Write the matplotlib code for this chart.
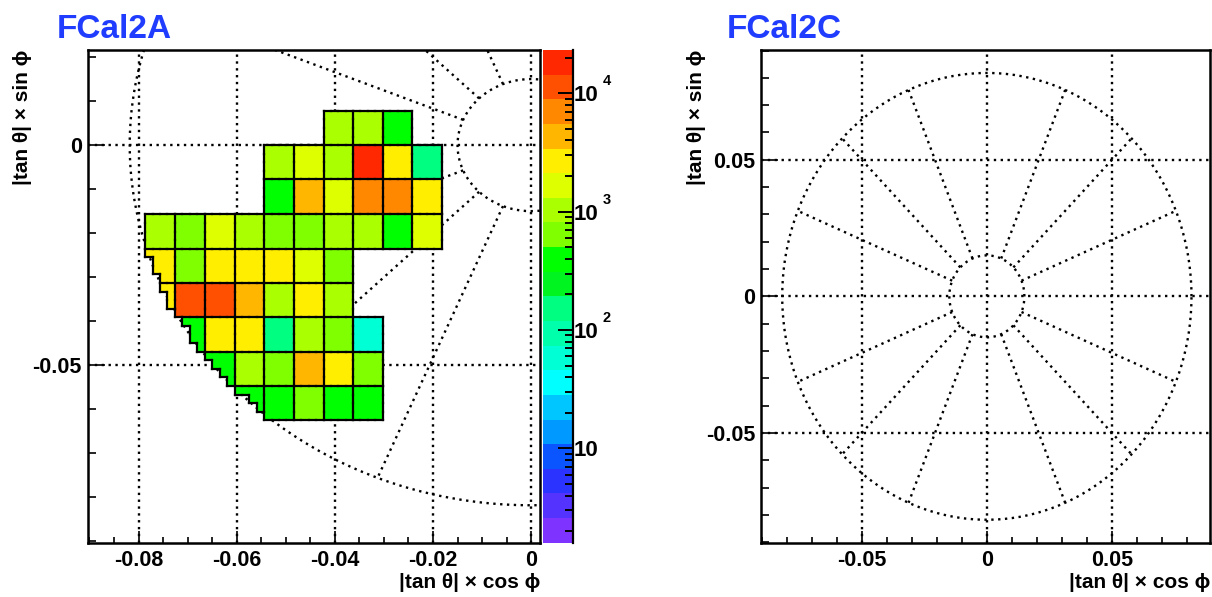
import numpy as np
import matplotlib
matplotlib.use('Agg')
import matplotlib.pyplot as plt
from matplotlib.colors import ListedColormap, LogNorm
from matplotlib.collections import LineCollection
from matplotlib.ticker import MultipleLocator, FuncFormatter, LogLocator, NullFormatter
from matplotlib.transforms import offset_copy, blended_transform_factory

plt.rcParams['font.family'] = ['Liberation Sans', 'DejaVu Sans']
plt.rcParams['font.weight'] = 'bold'
plt.rcParams['axes.unicode_minus'] = False

# colour palette of the z axis, bottom to top (20 levels)
palette = ['#7f33ff', '#5533ff', '#2a33ff', '#0a55ff', '#0099ff',
           '#00c6ff', '#00ffff', '#00ffd5', '#00ffaa', '#00ff80',
           '#00f520', '#00ff00', '#80ff00', '#aaff00', '#deff00',
           '#ffee00', '#ffb600', '#ff8800', '#ff4f00', '#ff2800']
z_min, z_max = 1.6, 23200
cbar_ticks = [10, 100, 1000, 10000]
cbar_exponents = ['', '2', '3', '4']

# FCal2A tile grid (x edges left->right, y edges top->bottom)
col_edges = [-0.0786, -0.0726, -0.0665, -0.0604, -0.0544, -0.0484,
             -0.0423, -0.0363, -0.0302, -0.0242, -0.0182]
row_edges = [0.0078, 0.0, -0.0078, -0.0157, -0.0236, -0.0313,
             -0.0391, -0.0469, -0.0547, -0.0625]
nan = np.nan
counts_A = [
    [nan, nan, nan, nan, nan, nan, 1000, 1000, 400, nan],
    [nan, nan, nan, nan, 1000, 1650, 1000, 18000, 2700, 150],
    [nan, nan, nan, nan, 400, 4300, 1650, 7000, 7000, 2700],
    [1000, 650, 1650, 1000, 650, 650, 1000, 1000, 400, 1650],
    [2700, 650, 2700, 2700, 2700, 1650, 650, nan, nan, nan],
    [2700, 11000, 11000, 4300, 1000, 2700, 1000, nan, nan, nan],
    [nan, 400, 2700, 2700, 150, 1000, 650, 60, nan, nan],
    [nan, nan, 400, 1000, 650, 4300, 2700, 650, nan, nan],
    [nan, nan, nan, 400, 400, 650, 400, 400, nan, nan],
]

# detector outline
r_inner = 0.015
r_outer = 0.0818
n_sectors = 16
r_clip = 0.0818   # tiles are cut along the outer edge
nsub = 4          # staircase resolution inside a tile

W, H = 1212, 597
dots = (0, (1, 1.9))
dot_lw = 1.7

cmap = ListedColormap(palette)
norm = LogNorm(vmin=z_min, vmax=z_max)


def fmt_tick(v, pos):
    if abs(v) < 1e-9:
        return '0'
    return '%g' % v


def style_axes(ax, xmaj, xmin, ymaj, ymin):
    ax.xaxis.set_major_locator(MultipleLocator(xmaj))
    ax.xaxis.set_minor_locator(MultipleLocator(xmin))
    ax.yaxis.set_major_locator(MultipleLocator(ymaj))
    ax.yaxis.set_minor_locator(MultipleLocator(ymin))
    ax.xaxis.set_major_formatter(FuncFormatter(fmt_tick))
    ax.yaxis.set_major_formatter(FuncFormatter(fmt_tick))
    ax.tick_params(which='both', direction='in', top=False, right=False,
                   width=1.2, labelsize=15.5)
    ax.tick_params(axis='x', which='major', length=9, pad=5)
    ax.tick_params(axis='x', which='minor', length=4.3)
    ax.tick_params(axis='y', which='major', length=12, pad=4)
    ax.tick_params(axis='y', which='minor', length=6)
    ax.grid(True, which='major', color='k', linestyle=dots, linewidth=dot_lw)
    ax.set_axisbelow(True)
    for s in ax.spines.values():
        s.set_linewidth(1.8)


def draw_outline(ax):
    t = np.linspace(0, 2 * np.pi, 500)
    for r in (r_inner, r_outer):
        ax.plot(r * np.cos(t), r * np.sin(t), color='k', linestyle=dots,
                linewidth=dot_lw, zorder=1)
    for k in range(n_sectors):
        if k % 4 == 0:
            continue  # these coincide with the grid lines
        a = 2 * np.pi * k / n_sectors
        ax.plot([r_inner * np.cos(a), r_outer * np.cos(a)],
                [r_inner * np.sin(a), r_outer * np.sin(a)],
                color='k', linestyle=dots, linewidth=dot_lw, zorder=1)


def sub_edges(e):
    e = np.asarray(e)
    parts = [np.linspace(e[i], e[i + 1], nsub + 1)[:-1] for i in range(len(e) - 1)]
    return np.concatenate(parts + [[e[-1]]])


def draw_tiles(ax, counts):
    vals = np.array(counts, dtype=float)
    fx = sub_edges(col_edges)
    fy = sub_edges(row_edges)
    fine = np.repeat(np.repeat(vals, nsub, axis=0), nsub, axis=1)
    ids = np.arange(vals.size).reshape(vals.shape)
    ids = np.repeat(np.repeat(ids, nsub, axis=0), nsub, axis=1)
    X, Y = np.meshgrid((fx[:-1] + fx[1:]) / 2, (fy[:-1] + fy[1:]) / 2)
    filled = (np.hypot(X, Y) < r_clip) & ~np.isnan(fine)
    mesh = ax.pcolormesh(fx, fy, np.ma.masked_where(~filled, fine),
                         cmap=cmap, norm=norm, zorder=2, antialiased=False)
    # black borders between tiles and around the covered area
    P = np.pad(np.where(filled, ids, -1), 1, constant_values=-1)
    nr, nc = fine.shape
    segs = []
    for i in range(nr):
        for j in range(nc + 1):
            if P[i + 1, j] != P[i + 1, j + 1]:
                segs.append([(fx[j], fy[i]), (fx[j], fy[i + 1])])
    for i in range(nr + 1):
        for j in range(nc):
            if P[i, j + 1] != P[i + 1, j + 1]:
                segs.append([(fx[j], fy[i]), (fx[j + 1], fy[i])])
    ax.add_collection(LineCollection(segs, colors='k', linewidths=1.6,
                                     capstyle='projecting', zorder=3))
    return mesh


fig = plt.figure(figsize=(W / 100, H / 100), dpi=100)
bottom = 1 - 542.7 / H
height = (542.7 - 50) / H

# ---- FCal2A ----
axA = fig.add_axes([87.5 / W, bottom, (540 - 87.5) / W, height])
draw_outline(axA)
mesh = draw_tiles(axA, counts_A)
axA.set_xlim(-0.0904, 0.0018)
axA.set_ylim(-0.0903, 0.0216)
style_axes(axA, 0.02, 0.005, 0.05, 0.01)

cax = fig.add_axes([543.3 / W, bottom, (572.7 - 543.3) / W, height])
cbar = fig.colorbar(mesh, cax=cax)
cbar.outline.set_visible(False)
cax.plot([1, 1], [0, 1], transform=cax.transAxes, color='k', lw=1.6, clip_on=False)
cbar.set_ticks(cbar_ticks, labels=['10'] * len(cbar_ticks))
cax.yaxis.set_minor_locator(LogLocator(base=10, subs=np.arange(2, 10)))
cax.yaxis.set_minor_formatter(NullFormatter())
cax.yaxis.set_ticks_position('right')
cax.tick_params(which='both', direction='in', width=1.4, labelsize=16, pad=1)
cax.tick_params(which='major', length=11)
cax.tick_params(which='minor', length=5.5)
tr = offset_copy(blended_transform_factory(cax.transAxes, cax.transData),
                 fig=fig, x=34, y=12, units='dots')
for v, e in zip(cbar_ticks, cbar_exponents):
    if e:
        cax.text(1, v, e, transform=tr, ha='center', va='center', fontsize=10.5)

# ---- FCal2C ----
axC = fig.add_axes([760.7 / W, bottom, (1210 - 760.7) / W, height])
draw_outline(axC)
axC.set_xlim(-0.0904, 0.0892)
axC.set_ylim(-0.0902, 0.0902)
style_axes(axC, 0.05, 0.01, 0.05, 0.01)

# titles and axis labels
blue = '#1f3cff'
fig.text(57 / W, 1 - 38 / H, 'FCal2A', color=blue, fontsize=24,
         fontweight='bold', ha='left', va='baseline')
fig.text(727 / W, 1 - 38 / H, 'FCal2C', color=blue, fontsize=24,
         fontweight='bold', ha='left', va='baseline')
ylab = '|tan θ| × sin ϕ'
xlab = '|tan θ| × cos ϕ'
for x0 in (23, 696):
    fig.text(x0 / W, 1 - 50 / H, ylab, rotation=90, ha='center', va='top',
             fontsize=15, fontweight='bold')
for x1 in (540, 1210):
    fig.text(x1 / W, 1 - 588 / H, xlab, ha='right', va='baseline',
             fontsize=15, fontweight='bold')

fig.savefig('out.png', dpi=100)
